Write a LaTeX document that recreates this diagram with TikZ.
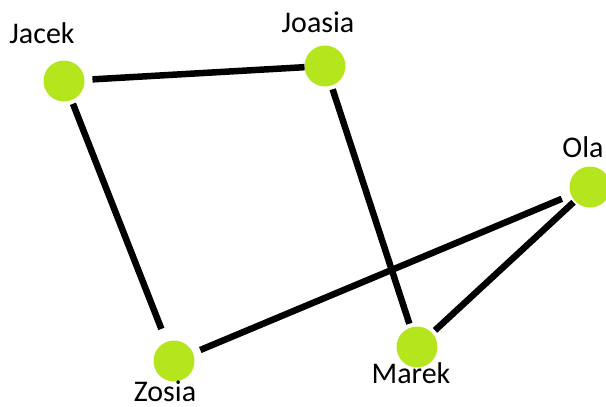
\documentclass[tikz,border=0pt]{standalone}
\usepackage{fontspec}
\setmainfont{Carlito}
\usepackage{tikz}
\usetikzlibrary{positioning}
\definecolor{LimeGreen}{HTML}{B5E61D}

\begin{document}
\begin{tikzpicture}[
    x=1pt, y=-1pt,
    person/.style={circle, fill=LimeGreen, inner sep=0pt, minimum size=41pt, outer sep=4pt},
    personname/.style={anchor=base, inner sep=0pt, font=\fontsize{30}{30}\selectfont},
    link/.style={line width=6.5pt, black}
  ]
    \useasboundingbox (0,0) rectangle (606,407);

    % osoby
    \node[person] (jacek) at (64,81) {};
    \node[person] (joasia) at (325,66) {};
    \node[person] (ola) at (590,187) {};
    \node[person] (zosia) at (174,361) {};
    \node[person] (marek) at (417,347) {};

    % podpisy
    \node[personname] (jacekL) at (42,43) {Jacek};
    \node[personname] (joasiaL) at (318,32) {Joasia};
    \node[personname] (olaL) at (583,157) {Ola};
    \node[personname] (zosiaL) at (165,401) {Zosia};
    \node[personname] (marekL) at (411,383) {Marek};

    % znajomości
    \draw[link, shorten <=4pt, shorten >=-4pt] (jacek) -- (joasia);
    \draw[link, shorten >=10pt] (jacek) -- (zosia);
    \draw[link] (joasia) -- (marek);
    \draw[link, shorten <=4pt, shorten >=6pt] (zosia) -- (ola);
    \draw[link, shorten >=-2pt] (marek) -- (ola);
  \end{tikzpicture}
\end{document}
